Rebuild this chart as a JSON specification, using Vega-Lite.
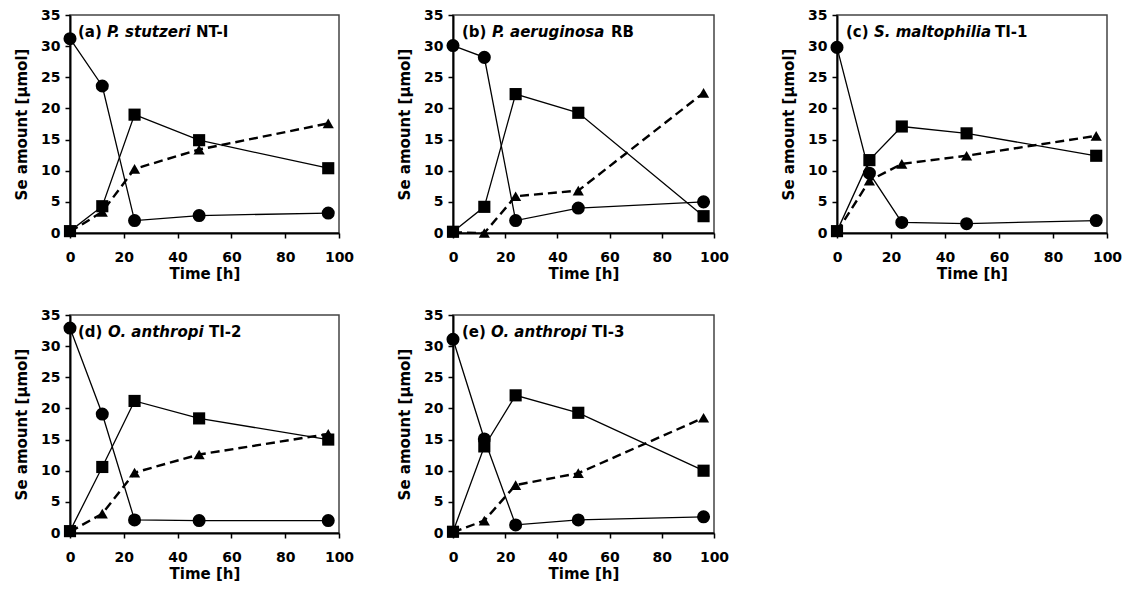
{
  "$schema": "https://vega.github.io/schema/vega-lite/v6.json",
  "background": "white",
  "padding": {"left": 13, "top": 7, "right": 5, "bottom": 5},
  "data": {"values": [
    {"panel":"a","series":"circle","t":0,"v":31.2},{"panel":"a","series":"circle","t":12,"v":23.6},{"panel":"a","series":"circle","t":24,"v":2.0},{"panel":"a","series":"circle","t":48,"v":2.8},{"panel":"a","series":"circle","t":96,"v":3.2},
    {"panel":"a","series":"square","t":0,"v":0.3},{"panel":"a","series":"square","t":12,"v":4.3},{"panel":"a","series":"square","t":24,"v":19.0},{"panel":"a","series":"square","t":48,"v":14.9},{"panel":"a","series":"square","t":96,"v":10.4},
    {"panel":"a","series":"triangle","t":0,"v":0.2},{"panel":"a","series":"triangle","t":12,"v":3.4},{"panel":"a","series":"triangle","t":24,"v":10.3},{"panel":"a","series":"triangle","t":48,"v":13.4},{"panel":"a","series":"triangle","t":96,"v":17.6},
    {"panel":"b","series":"circle","t":0,"v":30.1},{"panel":"b","series":"circle","t":12,"v":28.2},{"panel":"b","series":"circle","t":24,"v":2.0},{"panel":"b","series":"circle","t":48,"v":4.0},{"panel":"b","series":"circle","t":96,"v":5.0},
    {"panel":"b","series":"square","t":0,"v":0.2},{"panel":"b","series":"square","t":12,"v":4.2},{"panel":"b","series":"square","t":24,"v":22.3},{"panel":"b","series":"square","t":48,"v":19.3},{"panel":"b","series":"square","t":96,"v":2.7},
    {"panel":"b","series":"triangle","t":0,"v":0.1},{"panel":"b","series":"triangle","t":12,"v":0.0},{"panel":"b","series":"triangle","t":24,"v":5.9},{"panel":"b","series":"triangle","t":48,"v":6.8},{"panel":"b","series":"triangle","t":96,"v":22.5},
    {"panel":"c","series":"circle","t":0,"v":29.8},{"panel":"c","series":"circle","t":12,"v":9.6},{"panel":"c","series":"circle","t":24,"v":1.7},{"panel":"c","series":"circle","t":48,"v":1.5},{"panel":"c","series":"circle","t":96,"v":2.0},
    {"panel":"c","series":"square","t":0,"v":0.3},{"panel":"c","series":"square","t":12,"v":11.7},{"panel":"c","series":"square","t":24,"v":17.1},{"panel":"c","series":"square","t":48,"v":16.0},{"panel":"c","series":"square","t":96,"v":12.4},
    {"panel":"c","series":"triangle","t":0,"v":0.2},{"panel":"c","series":"triangle","t":12,"v":8.4},{"panel":"c","series":"triangle","t":24,"v":11.1},{"panel":"c","series":"triangle","t":48,"v":12.4},{"panel":"c","series":"triangle","t":96,"v":15.6},
    {"panel":"d","series":"circle","t":0,"v":32.9},{"panel":"d","series":"circle","t":12,"v":19.1},{"panel":"d","series":"circle","t":24,"v":2.1},{"panel":"d","series":"circle","t":48,"v":2.0},{"panel":"d","series":"circle","t":96,"v":2.0},
    {"panel":"d","series":"square","t":0,"v":0.3},{"panel":"d","series":"square","t":12,"v":10.6},{"panel":"d","series":"square","t":24,"v":21.2},{"panel":"d","series":"square","t":48,"v":18.4},{"panel":"d","series":"square","t":96,"v":15.0},
    {"panel":"d","series":"triangle","t":0,"v":0.2},{"panel":"d","series":"triangle","t":12,"v":3.1},{"panel":"d","series":"triangle","t":24,"v":9.7},{"panel":"d","series":"triangle","t":48,"v":12.6},{"panel":"d","series":"triangle","t":96,"v":15.9},
    {"panel":"e","series":"circle","t":0,"v":31.1},{"panel":"e","series":"circle","t":12,"v":15.1},{"panel":"e","series":"circle","t":24,"v":1.3},{"panel":"e","series":"circle","t":48,"v":2.1},{"panel":"e","series":"circle","t":96,"v":2.6},
    {"panel":"e","series":"square","t":0,"v":0.2},{"panel":"e","series":"square","t":12,"v":13.9},{"panel":"e","series":"square","t":24,"v":22.1},{"panel":"e","series":"square","t":48,"v":19.3},{"panel":"e","series":"square","t":96,"v":10.0},
    {"panel":"e","series":"triangle","t":0,"v":0.1},{"panel":"e","series":"triangle","t":12,"v":2.0},{"panel":"e","series":"triangle","t":24,"v":7.7},{"panel":"e","series":"triangle","t":48,"v":9.6},{"panel":"e","series":"triangle","t":96,"v":18.5}
  ]},
  "vconcat": [
    {"hconcat": [
      {"hconcat": [
        {"width": 269, "height": 218,
         "encoding": {
           "x": {"field":"t","type":"quantitative","scale":{"domain":[0,100]},"axis":{"values":[0,20,40,60,80,100],"title":"Time [h]"}},
           "y": {"field":"v","type":"quantitative","scale":{"domain":[0,35]},"axis":{"values":[0,5,10,15,20,25,30,35],"title":"Se amount [μmol]"}}
         },
         "layer": [
           {"transform": [{"filter": "datum.panel == 'a' && datum.series != 'triangle'"}],"mark":{"type":"line","color":"black","strokeWidth":1.3,"clip":false},"encoding":{"detail":{"field":"series"}}},
           {"transform": [{"filter": "datum.panel == 'a' && datum.series == 'triangle'"}],"mark":{"type":"line","color":"black","strokeWidth":2.4,"strokeDash":[9,5],"clip":false},"encoding":{}},
           {"transform": [{"filter": "datum.panel == 'a'"}],"mark":{"type":"point","filled":true,"color":"black","opacity":1,"clip":false},"encoding":{"shape":{"field":"series","type":"nominal","scale":{"domain":["circle","square","triangle"],"range":["circle","square","triangle-up"]},"legend":null},"size":{"field":"series","type":"nominal","scale":{"domain":["circle","square","triangle"],"range":[170,125,150]},"legend":null}}},
           {"transform": [{"filter": "datum.panel == 'a' && datum.series == 'circle' && datum.t == 0"}],"mark":{"type":"text","align":"left","baseline":"middle","dx":8,"font":"DejaVu Sans","fontSize":15,"fontWeight":"bold","color":"black"},"encoding":{"y":{"datum":32.2},"text":{"value":"(a)"}}},
           {"transform": [{"filter": "datum.panel == 'a' && datum.series == 'circle' && datum.t == 0"}],"mark":{"type":"text","align":"left","baseline":"middle","dx":37,"font":"DejaVu Sans","fontSize":15,"fontWeight":"bold","fontStyle":"italic","color":"black"},"encoding":{"y":{"datum":32.2},"text":{"value":"P. stutzeri"}}},
           {"transform": [{"filter": "datum.panel == 'a' && datum.series == 'circle' && datum.t == 0"}],"mark":{"type":"text","align":"left","baseline":"middle","dx":126,"font":"DejaVu Sans","fontSize":15,"fontWeight":"bold","color":"black"},"encoding":{"y":{"datum":32.2},"text":{"value":"NT-I"}}}
         ]},
        {"width": 261, "height": 218,
         "encoding": {
           "x": {"field":"t","type":"quantitative","scale":{"domain":[0,100]},"axis":{"values":[0,20,40,60,80,100],"title":"Time [h]"}},
           "y": {"field":"v","type":"quantitative","scale":{"domain":[0,35]},"axis":{"values":[0,5,10,15,20,25,30,35],"title":"Se amount [μmol]"}}
         },
         "layer": [
           {"transform": [{"filter": "datum.panel == 'b' && datum.series != 'triangle'"}],"mark":{"type":"line","color":"black","strokeWidth":1.3,"clip":false},"encoding":{"detail":{"field":"series"}}},
           {"transform": [{"filter": "datum.panel == 'b' && datum.series == 'triangle'"}],"mark":{"type":"line","color":"black","strokeWidth":2.4,"strokeDash":[9,5],"clip":false},"encoding":{}},
           {"transform": [{"filter": "datum.panel == 'b'"}],"mark":{"type":"point","filled":true,"color":"black","opacity":1,"clip":false},"encoding":{"shape":{"field":"series","type":"nominal","scale":{"domain":["circle","square","triangle"],"range":["circle","square","triangle-up"]},"legend":null},"size":{"field":"series","type":"nominal","scale":{"domain":["circle","square","triangle"],"range":[170,125,150]},"legend":null}}},
           {"transform": [{"filter": "datum.panel == 'b' && datum.series == 'circle' && datum.t == 0"}],"mark":{"type":"text","align":"left","baseline":"middle","dx":9,"font":"DejaVu Sans","fontSize":15,"fontWeight":"bold","color":"black"},"encoding":{"y":{"datum":32.2},"text":{"value":"(b)"}}},
           {"transform": [{"filter": "datum.panel == 'b' && datum.series == 'circle' && datum.t == 0"}],"mark":{"type":"text","align":"left","baseline":"middle","dx":39,"font":"DejaVu Sans","fontSize":15,"fontWeight":"bold","fontStyle":"italic","color":"black"},"encoding":{"y":{"datum":32.2},"text":{"value":"P. aeruginosa"}}},
           {"transform": [{"filter": "datum.panel == 'b' && datum.series == 'circle' && datum.t == 0"}],"mark":{"type":"text","align":"left","baseline":"middle","dx":158,"font":"DejaVu Sans","fontSize":15,"fontWeight":"bold","color":"black"},"encoding":{"y":{"datum":32.2},"text":{"value":"RB"}}}
         ]}
      ], "spacing": 41},
      {"width": 270, "height": 218,
       "encoding": {
         "x": {"field":"t","type":"quantitative","scale":{"domain":[0,100]},"axis":{"values":[0,20,40,60,80,100],"title":"Time [h]"}},
         "y": {"field":"v","type":"quantitative","scale":{"domain":[0,35]},"axis":{"values":[0,5,10,15,20,25,30,35],"title":"Se amount [μmol]"}}
       },
       "layer": [
         {"transform": [{"filter": "datum.panel == 'c' && datum.series != 'triangle'"}],"mark":{"type":"line","color":"black","strokeWidth":1.3,"clip":false},"encoding":{"detail":{"field":"series"}}},
         {"transform": [{"filter": "datum.panel == 'c' && datum.series == 'triangle'"}],"mark":{"type":"line","color":"black","strokeWidth":2.4,"strokeDash":[9,5],"clip":false},"encoding":{}},
         {"transform": [{"filter": "datum.panel == 'c'"}],"mark":{"type":"point","filled":true,"color":"black","opacity":1,"clip":false},"encoding":{"shape":{"field":"series","type":"nominal","scale":{"domain":["circle","square","triangle"],"range":["circle","square","triangle-up"]},"legend":null},"size":{"field":"series","type":"nominal","scale":{"domain":["circle","square","triangle"],"range":[170,125,150]},"legend":null}}},
         {"transform": [{"filter": "datum.panel == 'c' && datum.series == 'circle' && datum.t == 0"}],"mark":{"type":"text","align":"left","baseline":"middle","dx":9,"font":"DejaVu Sans","fontSize":15,"fontWeight":"bold","color":"black"},"encoding":{"y":{"datum":32.2},"text":{"value":"(c)"}}},
         {"transform": [{"filter": "datum.panel == 'c' && datum.series == 'circle' && datum.t == 0"}],"mark":{"type":"text","align":"left","baseline":"middle","dx":37,"font":"DejaVu Sans","fontSize":15,"fontWeight":"bold","fontStyle":"italic","color":"black"},"encoding":{"y":{"datum":32.2},"text":{"value":"S. maltophilia"}}},
         {"transform": [{"filter": "datum.panel == 'c' && datum.series == 'circle' && datum.t == 0"}],"mark":{"type":"text","align":"left","baseline":"middle","dx":158,"font":"DejaVu Sans","fontSize":15,"fontWeight":"bold","color":"black"},"encoding":{"y":{"datum":32.2},"text":{"value":"TI-1"}}}
       ]}
    ], "spacing": 50},
    {"hconcat": [
      {"width": 269, "height": 218,
       "encoding": {
         "x": {"field":"t","type":"quantitative","scale":{"domain":[0,100]},"axis":{"values":[0,20,40,60,80,100],"title":"Time [h]"}},
         "y": {"field":"v","type":"quantitative","scale":{"domain":[0,35]},"axis":{"values":[0,5,10,15,20,25,30,35],"title":"Se amount [μmol]"}}
       },
       "layer": [
         {"transform": [{"filter": "datum.panel == 'd' && datum.series != 'triangle'"}],"mark":{"type":"line","color":"black","strokeWidth":1.3,"clip":false},"encoding":{"detail":{"field":"series"}}},
         {"transform": [{"filter": "datum.panel == 'd' && datum.series == 'triangle'"}],"mark":{"type":"line","color":"black","strokeWidth":2.4,"strokeDash":[9,5],"clip":false},"encoding":{}},
         {"transform": [{"filter": "datum.panel == 'd'"}],"mark":{"type":"point","filled":true,"color":"black","opacity":1,"clip":false},"encoding":{"shape":{"field":"series","type":"nominal","scale":{"domain":["circle","square","triangle"],"range":["circle","square","triangle-up"]},"legend":null},"size":{"field":"series","type":"nominal","scale":{"domain":["circle","square","triangle"],"range":[170,125,150]},"legend":null}}},
         {"transform": [{"filter": "datum.panel == 'd' && datum.series == 'circle' && datum.t == 0"}],"mark":{"type":"text","align":"left","baseline":"middle","dx":8,"font":"DejaVu Sans","fontSize":15,"fontWeight":"bold","color":"black"},"encoding":{"y":{"datum":32.2},"text":{"value":"(d)"}}},
         {"transform": [{"filter": "datum.panel == 'd' && datum.series == 'circle' && datum.t == 0"}],"mark":{"type":"text","align":"left","baseline":"middle","dx":38,"font":"DejaVu Sans","fontSize":15,"fontWeight":"bold","fontStyle":"italic","color":"black"},"encoding":{"y":{"datum":32.2},"text":{"value":"O. anthropi"}}},
         {"transform": [{"filter": "datum.panel == 'd' && datum.series == 'circle' && datum.t == 0"}],"mark":{"type":"text","align":"left","baseline":"middle","dx":139,"font":"DejaVu Sans","fontSize":15,"fontWeight":"bold","color":"black"},"encoding":{"y":{"datum":32.2},"text":{"value":"TI-2"}}}
       ]},
      {"width": 261, "height": 218,
       "encoding": {
         "x": {"field":"t","type":"quantitative","scale":{"domain":[0,100]},"axis":{"values":[0,20,40,60,80,100],"title":"Time [h]"}},
         "y": {"field":"v","type":"quantitative","scale":{"domain":[0,35]},"axis":{"values":[0,5,10,15,20,25,30,35],"title":"Se amount [μmol]"}}
       },
       "layer": [
         {"transform": [{"filter": "datum.panel == 'e' && datum.series != 'triangle'"}],"mark":{"type":"line","color":"black","strokeWidth":1.3,"clip":false},"encoding":{"detail":{"field":"series"}}},
         {"transform": [{"filter": "datum.panel == 'e' && datum.series == 'triangle'"}],"mark":{"type":"line","color":"black","strokeWidth":2.4,"strokeDash":[9,5],"clip":false},"encoding":{}},
         {"transform": [{"filter": "datum.panel == 'e'"}],"mark":{"type":"point","filled":true,"color":"black","opacity":1,"clip":false},"encoding":{"shape":{"field":"series","type":"nominal","scale":{"domain":["circle","square","triangle"],"range":["circle","square","triangle-up"]},"legend":null},"size":{"field":"series","type":"nominal","scale":{"domain":["circle","square","triangle"],"range":[170,125,150]},"legend":null}}},
         {"transform": [{"filter": "datum.panel == 'e' && datum.series == 'circle' && datum.t == 0"}],"mark":{"type":"text","align":"left","baseline":"middle","dx":9,"font":"DejaVu Sans","fontSize":15,"fontWeight":"bold","color":"black"},"encoding":{"y":{"datum":32.2},"text":{"value":"(e)"}}},
         {"transform": [{"filter": "datum.panel == 'e' && datum.series == 'circle' && datum.t == 0"}],"mark":{"type":"text","align":"left","baseline":"middle","dx":38,"font":"DejaVu Sans","fontSize":15,"fontWeight":"bold","fontStyle":"italic","color":"black"},"encoding":{"y":{"datum":32.2},"text":{"value":"O. anthropi"}}},
         {"transform": [{"filter": "datum.panel == 'e' && datum.series == 'circle' && datum.t == 0"}],"mark":{"type":"text","align":"left","baseline":"middle","dx":139,"font":"DejaVu Sans","fontSize":15,"fontWeight":"bold","color":"black"},"encoding":{"y":{"datum":32.2},"text":{"value":"TI-3"}}}
       ]}
    ], "spacing": 41}
  ],
  "spacing": 25,
  "config": {
    "view": {"stroke": "#444444", "strokeWidth": 1.5},
    "axis": {
      "grid": false,
      "labelFont": "DejaVu Sans", "labelFontSize": 14, "labelFontWeight": "bold", "labelColor": "black",
      "titleFont": "DejaVu Sans", "titleFontSize": 15, "titleFontWeight": "bold", "titleColor": "black",
      "domainColor": "black", "domainWidth": 2, "tickColor": "black", "tickWidth": 1.5, "tickSize": 5,
      "labelFlush": false, "labelOverlap": false
    },
    "axisX": {"labelPadding": 12, "titlePadding": 2},
    "axisY": {"labelPadding": 5, "titlePadding": 11}
  }
}
